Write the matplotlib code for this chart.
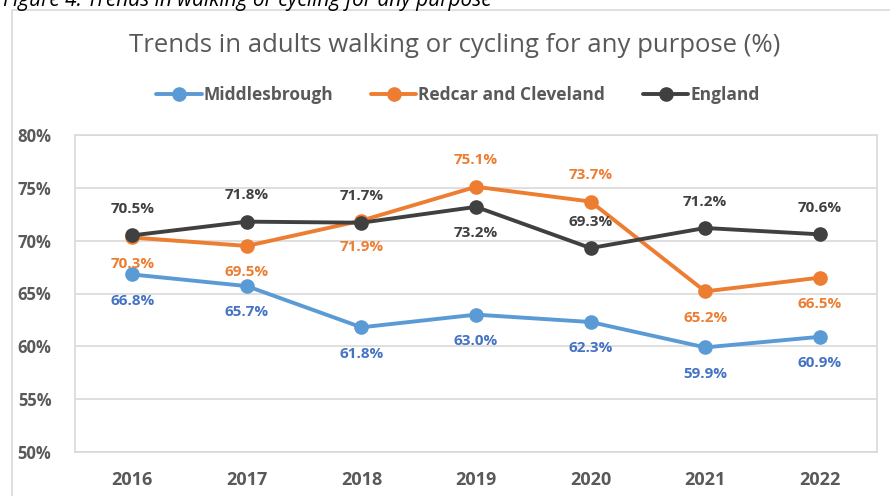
import matplotlib
matplotlib.use("Agg")
import matplotlib.pyplot as plt
from matplotlib.patches import Rectangle

years = ["2016", "2017", "2018", "2019", "2020", "2021", "2022"]
middlesbrough = [66.8, 65.7, 61.8, 63.0, 62.3, 59.9, 60.9]
redcar = [70.3, 69.5, 71.9, 75.1, 73.7, 65.2, 66.5]
england = [70.5, 71.8, 71.7, 73.2, 69.3, 71.2, 70.6]

# label above (+1) or below (-1) each point
mid_pos = [-1, -1, -1, -1, -1, -1, -1]
red_pos = [-1, -1, -1, 1, 1, -1, -1]
eng_pos = [1, 1, 1, -1, 1, 1, 1]

plt.rcParams['font.family'] = ['Open Sans', 'DejaVu Sans']
grey = '#595959'

fig = plt.figure(figsize=(8.9, 4.96), dpi=100)
ax = fig.add_axes([75 / 890, 1 - 452 / 496, 802 / 890, 317 / 496])

# outer chart frame and the caption above it (cut off at the top, as in the source)
fig.patches.append(Rectangle((12 / 890, -0.05), 1.0, 1 - 10 / 496 + 0.05,
                             transform=fig.transFigure, fill=False,
                             edgecolor='#D9D9D9', lw=1.2))
fig.text(3 / 890, 1 - 6 / 496, "Figure 4: Trends in walking or cycling for any purpose",
         fontsize=15, style='italic', color='#000000', va='baseline', ha='left')

x = list(range(len(years)))
series = [
    ("Middlesbrough", middlesbrough, '#5B9BD5', '#4472C4', mid_pos),
    ("Redcar and Cleveland", redcar, '#ED7D31', '#ED7D31', red_pos),
    ("England", england, '#404040', '#404040', eng_pos),
]
for name, vals, col, lcol, pos in series:
    ax.plot(x, vals, color=col, lw=2.8, marker='o', markersize=9.5,
            label=name, solid_capstyle='round', zorder=3)
    for xi, v, p in zip(x, vals, pos):
        ax.annotate(f"{v:.1f}%", (xi, v), xytext=(0, 19 * p), textcoords='offset points',
                    ha='center', va='center', fontsize=11, fontweight='bold', color=lcol)

ax.set_xlim(-0.5, len(years) - 0.5)
ax.set_ylim(50, 80)
ax.set_yticks(range(50, 81, 5))
ax.set_yticklabels([f"{t}%" for t in range(50, 81, 5)])
ax.set_xticks(x)
ax.set_xticklabels(years)
ax.grid(axis='y', color='#D9D9D9', lw=1.2)
ax.set_axisbelow(True)
for s in ax.spines.values():
    s.set_color('#D9D9D9')
    s.set_linewidth(1.2)
ax.tick_params(length=0, labelcolor=grey)
ax.tick_params(axis='x', labelsize=13, pad=14)
ax.tick_params(axis='y', labelsize=12, pad=17)
for t in ax.get_xticklabels() + ax.get_yticklabels():
    t.set_fontweight('bold')

fig.text(455 / 890, 1 - 45 / 496, "Trends in adults walking or cycling for any purpose (%)",
         fontsize=18.5, color=grey, ha='center', va='center')

leg = fig.legend(loc='center', bbox_to_anchor=(458 / 890, 1 - 95 / 496), ncol=3,
                 frameon=False, handlelength=2.6, handletextpad=0.1, columnspacing=2.2,
                 prop={'weight': 'bold', 'size': 12.5})
for t in leg.get_texts():
    t.set_color(grey)

fig.savefig("out.png", dpi=100)
